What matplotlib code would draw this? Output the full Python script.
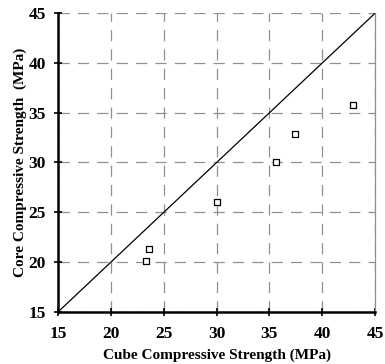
import matplotlib
matplotlib.use("Agg")
import matplotlib.pyplot as plt

cube = [23.3, 23.6, 30.0, 35.6, 37.4, 42.9]
core = [20.1, 21.3, 26.0, 30.0, 32.9, 35.8]
ticks = [15, 20, 25, 30, 35, 40, 45]
line_xy = [15, 45]

plt.rcParams['font.family'] = ['Liberation Serif']
plt.rcParams['font.weight'] = 'bold'

fig = plt.figure(figsize=(3.85, 3.64), dpi=100)
ax = fig.add_axes([0.1514, 0.1437, 0.974 - 0.1514, 0.9635 - 0.1437])
ax.plot(line_xy, line_xy, color='black', lw=0.9)
ax.scatter(cube, core, marker='s', s=24, facecolors='white', edgecolors='black', linewidths=0.9, zorder=3)
ax.set_xlim(15, 45)
ax.set_ylim(15, 45)
ax.set_xticks(ticks)
ax.set_yticks(ticks)
ax.grid(True, color='#909090', linestyle=(0, (9, 6.5)), lw=0.9)
ax.set_axisbelow(True)
ax.spines['left'].set_linewidth(1.8)
ax.spines['bottom'].set_linewidth(1.8)
ax.spines['top'].set_visible(False)
ax.spines['right'].set_color('#909090')
ax.spines['right'].set_linewidth(0.9)
ax.tick_params(direction='inout', length=6, width=1.2, labelsize=12.5)
ax.tick_params(axis='x', pad=7)
ax.tick_params(axis='y', pad=6)
for lab in ax.get_xticklabels() + ax.get_yticklabels():
    lab.set_fontweight('bold')
ax.set_xlabel('Cube Compressive Strength (MPa)', fontsize=11, fontweight='bold', va='center')
ax.xaxis.set_label_coords(0.5, -0.145)
ax.set_ylabel('Core Compressive Strength  (MPa)', fontsize=11, fontweight='bold', va='center')
ax.yaxis.set_label_coords(-0.121, 0.5)
fig.savefig('out.png', dpi=100)
